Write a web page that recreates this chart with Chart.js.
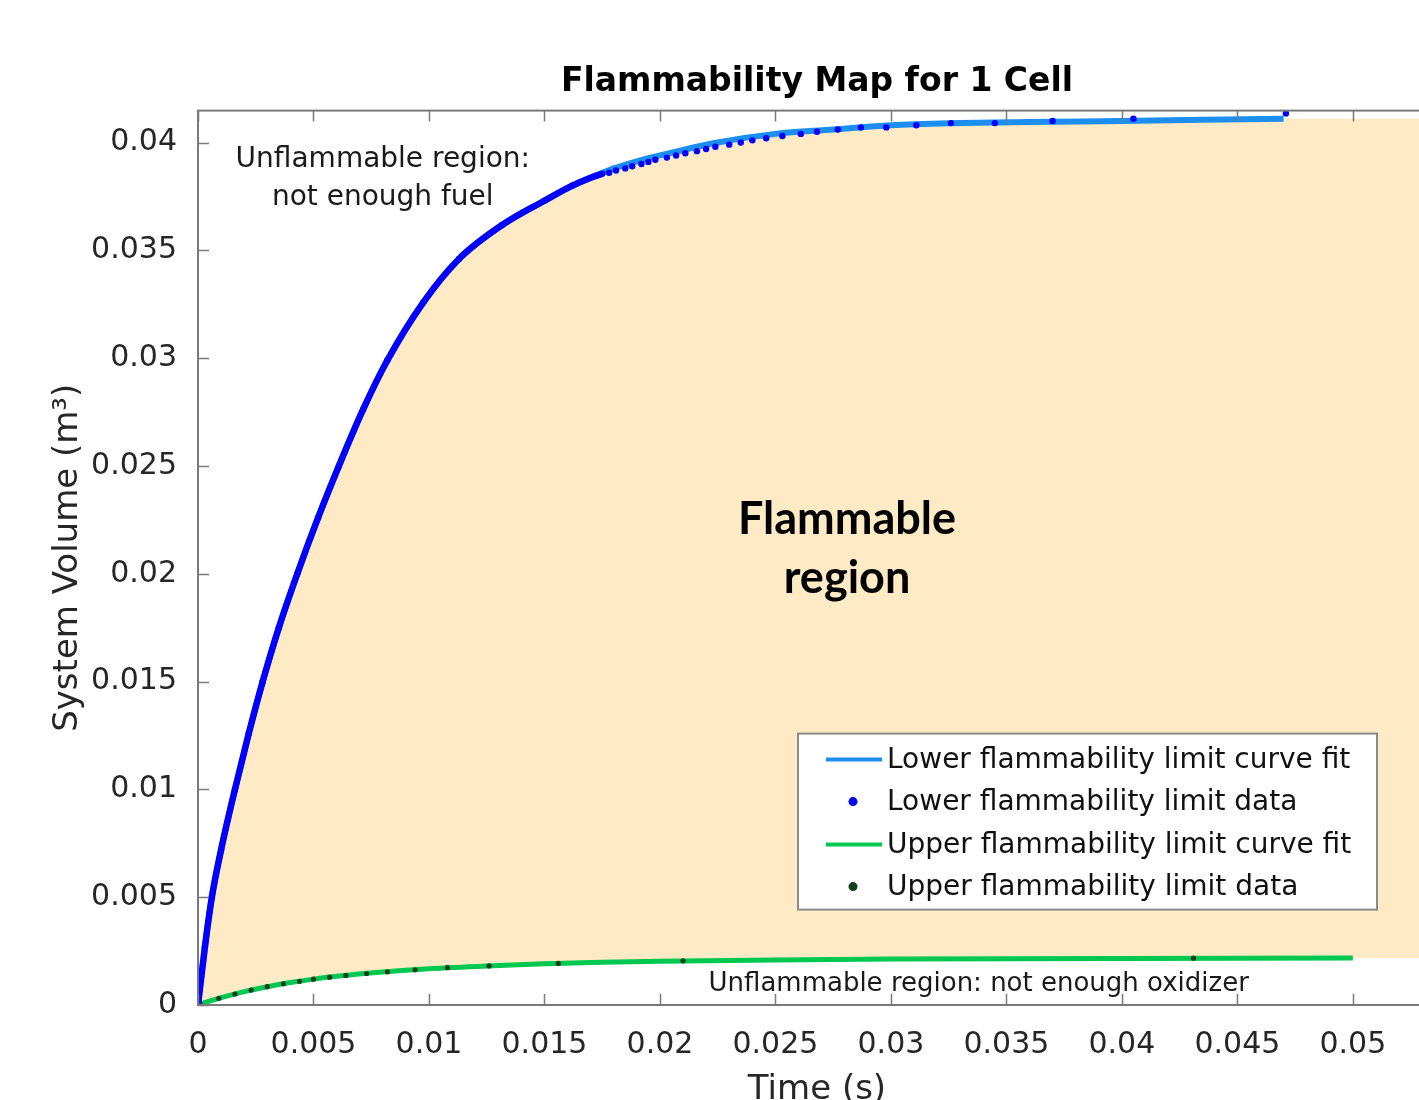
<!DOCTYPE html>
<html>
<head>
<meta charset="utf-8">
<title>Flammability Map for 1 Cell</title>
<script src="https://cdn.jsdelivr.net/npm/chart.js@4.4.1/dist/chart.umd.min.js"></script>
<style>
  html, body { margin: 0; padding: 0; background: #fff; overflow: hidden; }
  #wrap { width: 1440px; height: 1100px; }
</style>
</head>
<body>
<div id="wrap"><canvas id="map" width="1440" height="1100"></canvas></div>
<script>
// axis ticks
const xTicks = [0, 0.005, 0.01, 0.015, 0.02, 0.025, 0.03, 0.035, 0.04, 0.045, 0.05];
const xTickLabels = ['0', '0.005', '0.01', '0.015', '0.02', '0.025', '0.03', '0.035', '0.04', '0.045', '0.05'];
const yTicks = [0, 0.005, 0.01, 0.015, 0.02, 0.025, 0.03, 0.035, 0.04];
const yTickLabels = ['0', '0.005', '0.01', '0.015', '0.02', '0.025', '0.03', '0.035', '0.04'];
const xMax = 0.0536;
const yMax = 0.04148;

// lower flammability limit - curve fit (time s, volume m3)
const lowerFitT = [0, 0.0003, 0.0006, 0.001, 0.0016, 0.0022, 0.0028, 0.0035, 0.0043, 0.0052, 0.0061, 0.00715, 0.0082, 0.00975, 0.0113, 0.01315, 0.015, 0.0165, 0.018, 0.019, 0.02, 0.0225, 0.025, 0.0275, 0.03, 0.033, 0.036, 0.04, 0.0435, 0.047];
const lowerFitV = [0, 0.0027, 0.005, 0.0072, 0.01, 0.0126, 0.015, 0.0175, 0.02, 0.0226, 0.025, 0.02762, 0.0299, 0.03258, 0.0346, 0.03616, 0.0373, 0.03813, 0.0388, 0.03913, 0.0394, 0.04, 0.0404, 0.0406, 0.0408, 0.0409, 0.04095, 0.041, 0.04105, 0.0411];

// lower flammability limit - data
const lowerDataT = [0, 0.0003, 0.0006, 0.001, 0.0016, 0.0022, 0.0028, 0.0035, 0.0043, 0.0052, 0.0061, 0.00715, 0.0082, 0.00975, 0.0113, 0.01315, 0.015, 0.0162, 0.0175, 0.0178, 0.0181, 0.0185, 0.0188, 0.0192, 0.0195, 0.0198, 0.0203, 0.0207, 0.0211, 0.0216, 0.022, 0.0224, 0.023, 0.0235, 0.024, 0.0246, 0.0253, 0.0261, 0.0268, 0.0277, 0.0287, 0.0298, 0.0311, 0.0326, 0.0345, 0.037, 0.0405, 0.0471];
const lowerDataV = [0, 0.0027, 0.005, 0.0072, 0.01, 0.0126, 0.015, 0.0175, 0.02, 0.0226, 0.025, 0.02762, 0.0299, 0.03258, 0.0346, 0.03616, 0.0373, 0.038, 0.03855, 0.0386, 0.0387, 0.0388, 0.0389, 0.039, 0.0391, 0.0392, 0.0393, 0.0394, 0.0395, 0.0396, 0.0397, 0.0398, 0.0399, 0.04, 0.0401, 0.0402, 0.0403, 0.0404, 0.0405, 0.0406, 0.0407, 0.0407, 0.0408, 0.0409, 0.0409, 0.041, 0.0411, 0.04135];

// upper flammability limit - curve fit
const upperFitT = [0, 0.0005, 0.001, 0.002, 0.003, 0.004, 0.005, 0.006, 0.008, 0.01, 0.0125, 0.015, 0.0175, 0.02, 0.025, 0.03, 0.035, 0.04, 0.045, 0.05];
const upperFitV = [0, 0.00018, 0.00034, 0.00062, 0.00085, 0.00104, 0.0012, 0.00133, 0.00153, 0.00168, 0.00181, 0.00191, 0.00198, 0.00203, 0.00209, 0.00213, 0.00215, 0.00216, 0.00217, 0.00218];

// upper flammability limit - data
const upperDataT = [0, 0.0001, 0.0009, 0.0016, 0.0023, 0.003, 0.0037, 0.0044, 0.005, 0.0057, 0.0064, 0.0073, 0.0082, 0.0094, 0.0108, 0.0126, 0.0156, 0.021, 0.0431];
const upperDataV = [0, 0.00004, 0.00031, 0.00051, 0.00069, 0.00085, 0.00098, 0.0011, 0.0012, 0.00129, 0.00137, 0.00146, 0.00154, 0.00163, 0.00173, 0.00181, 0.00193, 0.00205, 0.00217];

const FONT = 'DejaVu Sans';
const INK = '#262626';

function pts(ts, vs) {
  return ts.map((t, i) => ({ x: t, y: vs[i] }));
}

// the flammable patch runs on to the right edge of the axes
const topEdge = pts(lowerFitT, lowerFitV).concat([{ x: xMax, y: lowerFitV[lowerFitV.length - 1] }]);
const bottomEdge = pts(upperFitT, upperFitV).concat([{ x: xMax, y: upperFitV[upperFitV.length - 1] }]);

const framePlugin = {
  id: 'frame',
  afterDatasetsDraw(chart) {
    const ctx = chart.ctx;
    const a = chart.chartArea;
    const xs = chart.scales.x, ys = chart.scales.y;
    ctx.save();
    ctx.strokeStyle = '#7a7a7a';
    ctx.lineWidth = 2;
    ctx.strokeRect(a.left, a.top, a.right - a.left, a.bottom - a.top);
    ctx.lineWidth = 1.5;
    ctx.beginPath();
    xTicks.forEach(v => {
      const px = Math.round(xs.getPixelForValue(v)) + 0.5;
      ctx.moveTo(px, a.bottom); ctx.lineTo(px, a.bottom - 11);
      ctx.moveTo(px, a.top); ctx.lineTo(px, a.top + 11);
    });
    yTicks.forEach(v => {
      const py = Math.round(ys.getPixelForValue(v)) + 0.5;
      ctx.moveTo(a.left, py); ctx.lineTo(a.left + 11, py);
    });
    ctx.stroke();

    // legend box
    const bx = a.left + 600, by = a.top + 623, bw = 579, bh = 176;
    ctx.fillStyle = '#ffffff';
    ctx.fillRect(bx, by, bw, bh);
    ctx.strokeStyle = '#8a8a8a';
    ctx.lineWidth = 2;
    ctx.strokeRect(bx, by, bw, bh);
    const rows = [26, 68, 111, 153];
    const items = chart.data.datasets.filter(d => d.legendKind);
    items.sort((p, q) => p.legendRank - q.legendRank);
    ctx.font = '28px "' + FONT + '"';
    ctx.textBaseline = 'middle';
    ctx.textAlign = 'left';
    items.forEach((d, i) => {
      const ry = by + rows[i];
      if (d.legendKind === 'line') {
        ctx.strokeStyle = d.borderColor;
        ctx.lineWidth = 4;
        ctx.beginPath();
        ctx.moveTo(bx + 28, ry); ctx.lineTo(bx + 84, ry);
        ctx.stroke();
      } else {
        ctx.fillStyle = d.pointBackgroundColor;
        ctx.beginPath();
        ctx.arc(bx + 55, ry, 4.5, 0, Math.PI * 2);
        ctx.fill();
      }
      ctx.fillStyle = '#111';
      ctx.fillText(d.label, bx + 89, ry + 1);
    });

    // region notes, placed in data units
    const note = (txt, t, v, font, color) => {
      ctx.font = font;
      ctx.fillStyle = color;
      ctx.textAlign = 'center';
      ctx.textBaseline = 'middle';
      ctx.fillText(txt, xs.getPixelForValue(t), ys.getPixelForValue(v));
    };
    const small = '28px "' + FONT + '"';
    note('Unflammable region:', 0.0080, 0.0392, small, '#1a1a1a');
    note('not enough fuel', 0.0080, 0.03745, small, '#1a1a1a');
    note('Unflammable region: not enough oxidizer', 0.0338, 0.00097, '26px "' + FONT + '"', '#1a1a1a');
    note('Flammable', 0.0281, 0.0225, 'bold 45px Lato', '#000');
    note('region', 0.0281, 0.0198, 'bold 45px Lato', '#000');
    ctx.restore();
  }
};

const config = {
  type: 'line',
  data: {
    datasets: [
      {
        label: 'flammable region top',
        data: topEdge,
        borderColor: 'rgba(0,0,0,0)',
        borderWidth: 0,
        pointRadius: 0,
        cubicInterpolationMode: 'monotone',
        backgroundColor: 'rgb(254,234,196)',
        fill: 1,
        order: 10
      },
      {
        label: 'flammable region bottom',
        data: bottomEdge,
        borderColor: 'rgba(0,0,0,0)',
        borderWidth: 0,
        pointRadius: 0,
        cubicInterpolationMode: 'monotone',
        fill: false,
        order: 11
      },
      {
        label: 'Lower flammability limit curve fit',
        data: pts(lowerFitT, lowerFitV),
        borderColor: '#1c8ef0',
        borderWidth: 6,
        pointRadius: 0,
        cubicInterpolationMode: 'monotone',
        fill: false,
        order: 4,
        legendKind: 'line', legendRank: 1
      },
      {
        label: 'Upper flammability limit curve fit',
        data: pts(upperFitT, upperFitV),
        borderColor: '#00c850',
        borderWidth: 5,
        pointRadius: 0,
        cubicInterpolationMode: 'monotone',
        fill: false,
        order: 4,
        legendKind: 'line', legendRank: 3
      },
      {
        label: 'Lower flammability limit data',
        data: pts(lowerDataT, lowerDataV),
        borderColor: '#0000ff',
        borderWidth: 6.5,
        pointRadius: 3.2,
        pointBorderWidth: 0,
        pointBackgroundColor: '#0000ff',
        cubicInterpolationMode: 'monotone',
        // points sit so close together low down that they merge into a solid trace
        segment: { borderColor: c => c.p1.parsed.x > 0.0176 ? 'rgba(0,0,0,0)' : undefined },
        fill: false,
        order: 1,
        legendKind: 'dot', legendRank: 2
      },
      {
        label: 'Upper flammability limit data',
        data: pts(upperDataT, upperDataV),
        showLine: false,
        pointRadius: 2.6,
        pointBorderWidth: 0,
        pointBackgroundColor: '#123f1c',
        fill: false,
        order: 1,
        legendKind: 'dot', legendRank: 4
      }
    ]
  },
  options: {
    responsive: false,
    animation: false,
    devicePixelRatio: 1,
    layout: { padding: { left: 0, right: 2, top: 0, bottom: 0 } },
    plugins: {
      legend: { display: false },
      tooltip: { enabled: false },
      title: {
        display: true,
        fullSize: false,
        text: 'Flammability Map for 1 Cell',
        color: '#000',
        font: { family: FONT, size: 33, weight: 'bold' },
        padding: { top: 63, bottom: 8 }
      }
    },
    scales: {
      x: {
        type: 'linear',
        min: 0,
        max: xMax,
        afterBuildTicks: s => { s.ticks = xTicks.map(v => ({ value: v })); },
        afterFit: s => { s.height = 95; },
        grid: { display: false },
        border: { display: false },
        ticks: {
          autoSkip: false,
          maxRotation: 0,
          padding: 14,
          color: INK,
          font: { family: FONT, size: 30 },
          callback: v => xTickLabels[xTicks.indexOf(v)]
        },
        title: {
          display: true,
          text: 'Time (s)',
          color: INK,
          font: { family: FONT, size: 34, lineHeight: 1 },
          padding: { top: 0, bottom: -7 }
        }
      },
      y: {
        type: 'linear',
        min: 0,
        max: yMax,
        afterBuildTicks: s => { s.ticks = yTicks.map(v => ({ value: v })); },
        afterFit: s => { s.width = 198; },
        grid: { display: false },
        border: { display: false },
        ticks: {
          padding: 13,
          color: INK,
          font: { family: FONT, size: 30 },
          callback: v => yTickLabels[yTicks.indexOf(v)]
        },
        title: {
          display: true,
          text: 'System Volume (m³)',
          color: INK,
          font: { family: FONT, size: 34 },
          padding: { top: 48, bottom: 0 }
        }
      }
    }
  },
  plugins: [framePlugin]
};

new Chart(document.getElementById('map'), config);
</script>
</body>
</html>
